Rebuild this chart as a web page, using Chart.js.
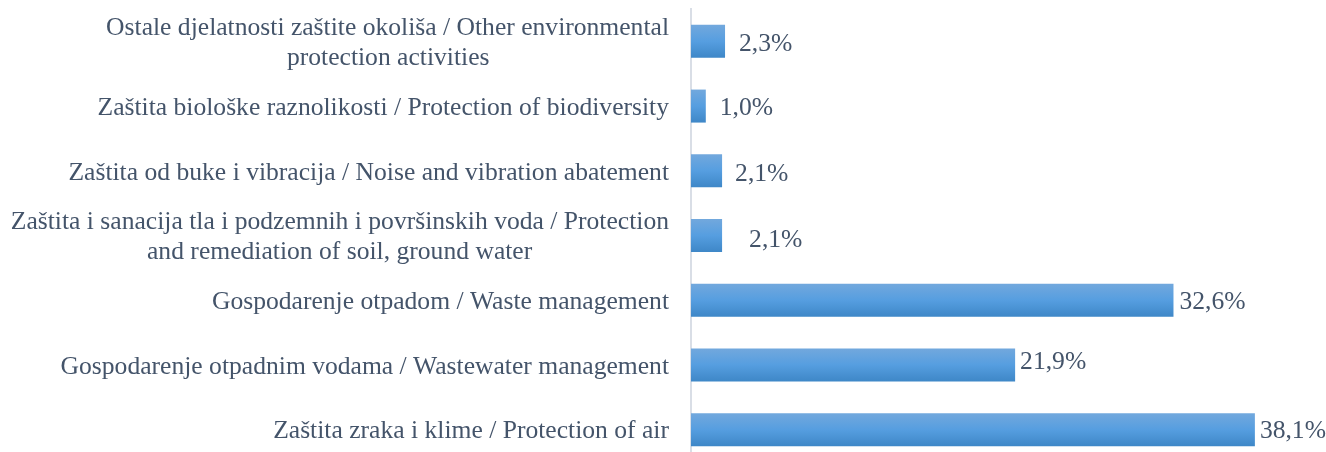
<!DOCTYPE html>
<html>
<head>
<meta charset="utf-8">
<script src="https://cdn.jsdelivr.net/npm/chart.js@4/dist/chart.umd.min.js"></script>
<style>
  html, body { margin: 0; padding: 0; background: #ffffff; overflow: hidden; }
  #wrap { position: relative; width: 1326px; height: 463px; }
</style>
</head>
<body>
<div id="wrap"><canvas id="c"></canvas></div>
<script>
// ---- data ----
const categories = [
  ["Ostale djelatnosti zaštite okoliša / Other environmental", "protection activities"],
  ["Zaštita biološke raznolikosti / Protection of biodiversity"],
  ["Zaštita od buke i vibracija / Noise and vibration abatement"],
  ["Zaštita i sanacija tla i podzemnih i površinskih voda / Protection", "and remediation of soil, ground water"],
  ["Gospodarenje otpadom / Waste management"],
  ["Gospodarenje otpadnim vodama / Wastewater management"],
  ["Zaštita zraka i klime / Protection of air"]
];
const shares = [2.3, 1.0, 2.1, 2.1, 32.6, 21.9, 38.1];
const valueLabels = ["2,3%", "1,0%", "2,1%", "2,1%", "32,6%", "21,9%", "38,1%"];

// ---- styling ----
const FONT_FAMILY = "'Liberation Serif', 'DejaVu Serif', serif";
const FONT_SIZE = 25.6;
const TEXT_COLOR = '#44546A';
const labelNudgeX = [14, 14, 13, 27, 6, 5, 5];
const labelNudgeY = [3, 2, 3, 5, 2, -3, 2];

// center shorter lines of multi-line labels under the longest line
const mctx = document.createElement('canvas').getContext('2d');
mctx.font = FONT_SIZE + 'px ' + FONT_FAMILY;
function centeredLines(lines) {
  if (lines.length < 2) return lines[0];
  const widths = lines.map(l => mctx.measureText(l).width);
  const maxW = Math.max(...widths);
  const sp = mctx.measureText('\u200A').width || 1;
  return lines.map((l, i) => {
    const pad = (maxW - widths[i]) / 2;
    const n = Math.round(pad / sp);
    return l + '\u200A'.repeat(n);
  });
}
const axisLabels = categories.map(centeredLines);

function barGradient(context) {
  const chart = context.chart;
  const yScale = chart.scales.y;
  if (!yScale || context.dataIndex == null) return '#559ddf';
  const cy = yScale.getPixelForValue(context.dataIndex);
  if (!isFinite(cy)) return '#559ddf';
  const half = 16.5;
  const g = chart.ctx.createLinearGradient(0, cy - half, 0, cy + half);
  g.addColorStop(0, '#72a8dd');
  g.addColorStop(0.5, '#569ee0');
  g.addColorStop(1, '#3e87c7');
  return g;
}

const valueLabelPlugin = {
  id: 'valueLabels',
  afterDatasetsDraw(chart) {
    const ctx = chart.ctx;
    const meta = chart.getDatasetMeta(0);
    ctx.save();
    ctx.font = FONT_SIZE + 'px ' + FONT_FAMILY;
    ctx.fillStyle = TEXT_COLOR;
    ctx.textAlign = 'left';
    ctx.textBaseline = 'middle';
    meta.data.forEach((bar, i) => {
      ctx.fillText(valueLabels[i], bar.x + labelNudgeX[i], bar.y + labelNudgeY[i]);
    });
    ctx.restore();
  }
};

const chart = new Chart(document.getElementById('c'), {
  type: 'bar',
  data: {
    labels: axisLabels,
    datasets: [{
      data: shares,
      backgroundColor: barGradient,
      borderWidth: 0,
      categoryPercentage: 1.0,
      barPercentage: 0.51
    }]
  },
  options: {
    indexAxis: 'y',
    responsive: true,
    maintainAspectRatio: false,
    animation: false,
    layout: { padding: { top: 9, right: 43, bottom: 1, left: 0 } },
    plugins: {
      legend: { display: false },
      tooltip: { enabled: false },
      title: { display: false }
    },
    scales: {
      x: {
        display: false,
        min: 0,
        max: 40
      },
      y: {
        afterFit(scale) {
          scale.width = 691;
          scale.paddingTop = 0;
          scale.paddingBottom = 0;
        },
        grid: { display: false, drawTicks: false },
        border: { display: true, color: '#d9dee6', width: 2 },
        ticks: {
          color: TEXT_COLOR,
          padding: 22,
          labelOffset: 2,
          autoSkip: false,
          font: { family: FONT_FAMILY, size: FONT_SIZE, lineHeight: 1.17 }
        }
      }
    }
  },
  plugins: [valueLabelPlugin]
});
chart.update('none');
</script>
</body>
</html>
